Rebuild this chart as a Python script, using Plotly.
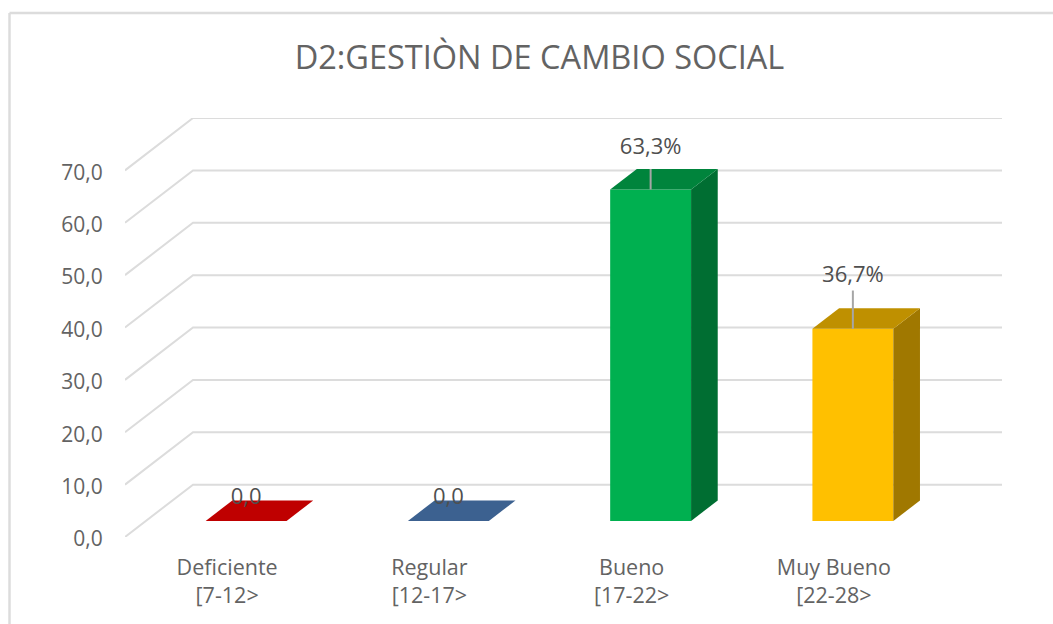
import plotly.graph_objects as go

categories = ["Deficiente<br>[7-12>", "Regular<br>[12-17>", "Bueno<br>[17-22>", "Muy Bueno<br>[22-28>"]
values = [0.0, 0.0, 63.3, 36.7]
value_labels = ["0,0", "0,0", "63,3%", "36,7%"]
y_ticks = [0, 10, 20, 30, 40, 50, 60, 70]
y_tick_labels = ["0,0", "10,0", "20,0", "30,0", "40,0", "50,0", "60,0", "70,0"]

front_colors = ["#FF0000", "#4F81BD", "#00B050", "#FFC000"]
top_colors = ["#BF0000", "#3C6190", "#00843C", "#BF9000"]
side_colors = ["#9F0000", "#315070", "#006E32", "#A07800"]

TEXT = "#636363"
LABEL = "#4F4F4F"
GRID = "#DCDCDC"
FONT = "Open Sans"

# plot area in page pixels
LEFT, RIGHT, TOP, BOTTOM = 125, 1002, 118, 537
W, H = 1053, 624

# oblique depth: one unit of depth lifts by one y unit and shifts right
CAT_PX = 202.25
DX = (68 / CAT_PX) / 10
WALL = 10.0
BAR_FRONT = 3.06
BAR_DEPTH = 3.92
BAR_WIDTH = 0.4
BAR_NUDGE = -0.004
X0 = -0.5
X1 = X0 + (RIGHT - LEFT) / CAT_PX

# label placement relative to the bar top, in axis units
label_lift = [4.2, 4.2, 7.8, 10.0]
leader_top = [None, None, 3.9, 7.3]


def project(x, v, depth):
    return x + depth * DX, v + depth


fig = go.Figure()

# front faces
fig.add_trace(go.Bar(
    x=list(range(len(values))),
    y=values,
    base=BAR_FRONT,
    width=BAR_WIDTH,
    offset=-BAR_WIDTH / 2 + BAR_FRONT * DX + BAR_NUDGE,
    marker={"color": front_colors, "line": {"width": 0}},
    hoverinfo="skip",
))

# top and side faces
for i, v in enumerate(values):
    l, r = i - BAR_WIDTH / 2 + BAR_NUDGE, i + BAR_WIDTH / 2 + BAR_NUDGE
    d0, d1 = BAR_FRONT, BAR_FRONT + BAR_DEPTH
    top = [project(l, v, d0), project(r, v, d0), project(r, v, d1), project(l, v, d1), project(l, v, d0)]
    side = [project(r, 0, d0), project(r, v, d0), project(r, v, d1), project(r, 0, d1), project(r, 0, d0)]
    for pts, color in ((side, side_colors[i]), (top, top_colors[i])):
        fig.add_trace(go.Scatter(
            x=[p[0] for p in pts],
            y=[p[1] for p in pts],
            mode="lines",
            fill="toself",
            fillcolor=color,
            line={"width": 0, "color": color},
            hoverinfo="skip",
        ))

# leader lines
for i, v in enumerate(values):
    if leader_top[i] is None:
        continue
    cx = i + BAR_FRONT * DX + BAR_NUDGE
    fig.add_trace(go.Scatter(
        x=[cx, cx],
        y=[v + BAR_FRONT, v + BAR_FRONT + leader_top[i]],
        mode="lines",
        line={"color": "#A6A6A6", "width": 2},
        hoverinfo="skip",
    ))

# data labels
fig.add_trace(go.Scatter(
    x=[i + BAR_FRONT * DX + BAR_NUDGE for i in range(len(values))],
    y=[v + BAR_FRONT + label_lift[i] for i, v in enumerate(values)],
    mode="text",
    text=value_labels,
    textposition="middle center",
    textfont={"family": FONT, "size": 22, "color": LABEL},
    cliponaxis=False,
    hoverinfo="skip",
))

# gridlines run along the side wall and then along the back wall
shapes = []
for t in y_ticks:
    xa, ya = project(X0, t, 0)
    xb, yb = project(X0, t, WALL)
    shapes.append({
        "type": "path",
        "xref": "x",
        "yref": "y",
        "path": f"M {xa},{ya} L {xb},{yb} L {X1},{yb}",
        "line": {"color": GRID, "width": 2},
        "layer": "below",
    })

# chart frame, open on the right and at the bottom of the crop
def paper_x(px):
    return (px - LEFT) / (RIGHT - LEFT)


def paper_y(px):
    return (BOTTOM - px) / (BOTTOM - TOP)


for x0, y0, x1, y1 in ((9.5, 13, 9.5, H + 5), (9.5, 13, W + 5, 13)):
    shapes.append({
        "type": "line",
        "xref": "paper",
        "yref": "paper",
        "x0": paper_x(x0),
        "y0": paper_y(y0),
        "x1": paper_x(x1),
        "y1": paper_y(y1),
        "line": {"color": GRID, "width": 2.5},
        "layer": "below",
    })

fig.update_layout(
    width=W,
    height=H,
    margin={"l": LEFT, "r": W - RIGHT, "t": TOP, "b": H - BOTTOM, "pad": 0},
    paper_bgcolor="white",
    plot_bgcolor="white",
    showlegend=False,
    shapes=shapes,
    title={
        "text": "D2:GESTIÒN DE CAMBIO SOCIAL",
        "x": 539.5 / W,
        "xanchor": "center",
        "y": 1 - 58 / H,
        "yanchor": "middle",
        "font": {"family": FONT, "size": 32.5, "color": TEXT},
    },
    font={"family": FONT, "color": TEXT},
)
fig.update_xaxes(
    range=[X0, X1],
    tickmode="array",
    tickvals=list(range(len(categories))),
    ticktext=categories,
    tickfont={"family": FONT, "size": 21.5, "color": TEXT},
    ticks="outside",
    ticklen=11,
    ticklabelshift=1,
    tickcolor="rgba(0,0,0,0)",
    showgrid=False,
    zeroline=False,
    showline=False,
)
fig.update_yaxes(
    range=[0, 80],
    tickmode="array",
    tickvals=y_ticks,
    ticktext=y_tick_labels,
    tickfont={"family": FONT, "size": 21, "color": TEXT},
    ticks="outside",
    ticklen=17,
    ticklabelshift=2,
    tickcolor="rgba(0,0,0,0)",
    showgrid=False,
    zeroline=False,
    showline=False,
)

fig.write_html(
    "out.html",
    config={"displayModeBar": False},
    post_script="document.body.style.margin='0';document.body.style.overflow='hidden';",
)
